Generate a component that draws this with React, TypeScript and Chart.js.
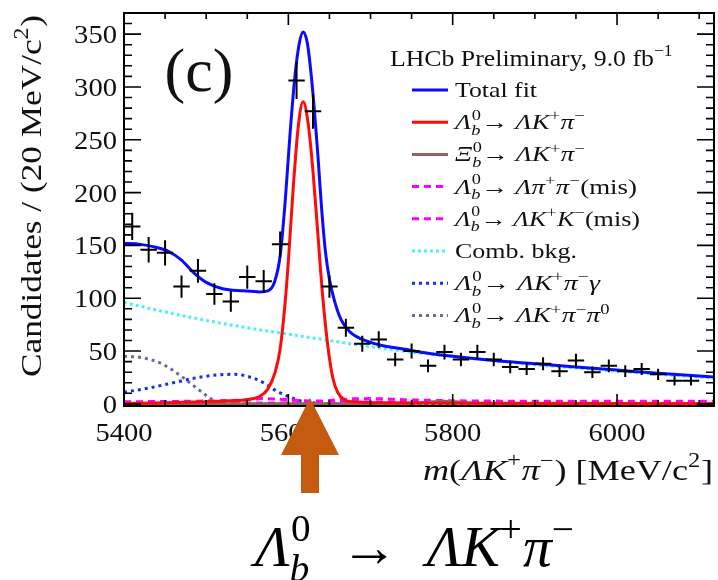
import React, { useEffect, useRef } from "react";
import { Chart, registerables } from "chart.js";
Chart.register(...registerables);

// ---------- data: measured candidates (20 MeV bins) ----------
const binCenters = [5410, 5430, 5450, 5470, 5490, 5510, 5530, 5550, 5570, 5590, 5610, 5630, 5650, 5670, 5690, 5710, 5730, 5750, 5770, 5790, 5810, 5830, 5850, 5870, 5890, 5910, 5930, 5950, 5970, 5990, 6010, 6030, 6050, 6070, 6090];
const counts = [168, 146, 143, 111, 126, 104, 97, 120, 116, 151, 306, 277, 111, 72, 57, 61, 42, 50, 36, 49, 42, 49, 42, 35, 33, 38, 31, 41, 30, 36, 31, 33, 28, 22, 22];
const binHalfWidth = 10;

// ---------- fit components ----------
const totalFitMass = [5400, 5420, 5440, 5455, 5470, 5485, 5500, 5520, 5545, 5565, 5575, 5583, 5590, 5596, 5602, 5608, 5613, 5618, 5623, 5628, 5632, 5636, 5640, 5645, 5650, 5656, 5664, 5675, 5690, 5710, 5740, 5770, 5800, 5850, 5900, 5950, 6000, 6050, 6118];
const totalFitValue = [152, 151, 148, 144, 136, 124, 115, 109, 107, 106, 107, 115, 140, 190, 255, 310, 340, 352, 342, 310, 275, 235, 190, 145, 118, 98, 80, 68, 61, 56, 52, 48, 45, 41, 38, 35, 32, 29, 25.5];

const signalMass = [5400, 5450, 5500, 5530, 5550, 5565, 5575, 5584, 5590, 5596, 5600, 5606, 5612, 5618, 5624, 5630, 5636, 5642, 5648, 5654, 5660, 5668, 5680, 5720, 5800, 6118];
const signalValue = [0.5, 1, 2, 3, 4, 7, 14, 30, 52, 95, 135, 205, 262, 286, 266, 220, 160, 100, 55, 25, 11, 4, 2, 1, 0.5, 0.2];

const xiMass = [5400, 5740, 5770, 5790, 5810, 5840, 6118];
const xiValue = [0, 0.3, 1.5, 2.5, 1.5, 0.3, 0];

const misPiPiMass = [5400, 5480, 5540, 5570, 5590, 5620, 5680, 5800, 6118];
const misPiPiValue = [2, 2.5, 3.5, 5, 4.5, 3, 2, 1.5, 1];

const misKKMass = [5400, 5600, 5640, 5670, 5700, 5740, 5800, 5950, 6118];
const misKKValue = [0.5, 1, 2.5, 4.5, 5, 4, 3, 2.5, 2.5];

const combMass = [5400, 5450, 5500, 5550, 5600, 5650, 5700, 5750, 5800, 5850, 5900, 5950, 6000, 6050, 6118];
const combValue = [96, 87, 79, 72, 66, 60, 54, 49, 45, 41, 37, 34, 31, 28, 24.5];

const gammaMass = [5400, 5430, 5460, 5490, 5515, 5535, 5555, 5570, 5586, 5600, 5614, 5630, 5650, 5700, 6118];
const gammaValue = [11, 15, 20, 25, 27.5, 28, 25, 20, 12, 7, 3, 1, 0.3, 0, 0];

const pi0Mass = [5400, 5420, 5440, 5455, 5470, 5485, 5500, 5510, 5525, 5550, 6118];
const pi0Value = [45, 44, 40, 34, 26, 17, 8, 3, 0.5, 0, 0];

// ---------- axes ----------
const xMin = 5400, xMax = 6118, yMin = -2, yMax = 370;
const xMajorTicks = [5400, 5600, 5800, 6000];
const xTickLabels = ["5400", "5600", "5800", "6000"];
const xMinorStep = 50;
const yMajorTicks = [0, 50, 100, 150, 200, 250, 300, 350];
const yTickLabels = ["0", "50", "100", "150", "200", "250", "300", "350"];
const yMinorStep = 10;

const SERIF = '"Liberation Serif", "Times New Roman", serif';

type Seg = { t: string; it?: boolean; k?: "sup" | "sub"; stack?: [string, string] };
const N = (t: string): Seg => ({ t });
const I = (t: string): Seg => ({ t, it: true });
const SUP = (t: string): Seg => ({ t, k: "sup" });
const STK = (sub: string, sup: string): Seg => ({ t: "", stack: [sub, sup] });

const fnt = (size: number, it: boolean | undefined, fam: string) => `${it ? "italic " : ""}${size.toFixed(1)}px ${fam}`;

function segWidth(ctx: CanvasRenderingContext2D, s: Seg, size: number, fam: string) {
  if (s.stack) {
    ctx.font = fnt(size * 0.68, true, fam);
    const a = ctx.measureText(s.stack[0]).width;
    ctx.font = fnt(size * 0.68, false, fam);
    const b = ctx.measureText(s.stack[1]).width;
    return Math.max(a, b) + size * 0.04;
  }
  const sz = s.k ? size * 0.68 : size;
  ctx.font = fnt(sz, s.it, fam);
  return ctx.measureText(s.t).width + (s.k ? size * 0.02 : 0);
}

function drawRich(
  ctx: CanvasRenderingContext2D,
  segs: Seg[],
  x: number,
  y: number,
  size: number,
  align: "left" | "right" | "center",
  opts: { target?: number; sx?: number; rot?: number; fam?: string; color?: string } = {}
) {
  const fam = opts.fam || SERIF;
  let W = 0;
  const ws = segs.map((s) => {
    const w = segWidth(ctx, s, size, fam);
    W += w;
    return w;
  });
  const sx = opts.target ? opts.target / W : opts.sx || 1;
  ctx.save();
  ctx.translate(x, y);
  if (opts.rot) ctx.rotate(opts.rot);
  ctx.scale(sx, 1);
  ctx.fillStyle = opts.color || "#111";
  ctx.textAlign = "left";
  ctx.textBaseline = "alphabetic";
  let cx = align === "left" ? 0 : align === "right" ? -W : -W / 2;
  segs.forEach((s, i) => {
    if (s.stack) {
      ctx.font = fnt(size * 0.68, true, fam);
      ctx.fillText(s.stack[0], cx, size * 0.26);
      ctx.font = fnt(size * 0.68, false, fam);
      ctx.fillText(s.stack[1], cx + size * 0.02, -size * 0.45);
    } else {
      const sz = s.k ? size * 0.68 : size;
      const dy = s.k === "sup" ? -size * 0.42 : s.k === "sub" ? size * 0.22 : 0;
      ctx.font = fnt(sz, s.it, fam);
      ctx.fillText(s.t, cx, dy);
    }
    cx += ws[i];
  });
  ctx.restore();
}

const LB0: Seg[] = [I("Λ"), STK("b", "0"), N("→ ")];

const components = [
  { name: "total", mass: totalFitMass, value: totalFitValue, color: "#0b0bff", dash: [] as number[], width: 3, label: [N("Total fit")], target: 82 },
  { name: "signal", mass: signalMass, value: signalValue, color: "#ff0a0a", dash: [] as number[], width: 3, label: [...LB0, I("ΛK"), SUP("+"), I("π"), SUP("−")], target: 130 },
  { name: "xi", mass: xiMass, value: xiValue, color: "#926262", dash: [] as number[], width: 3, label: [I("Ξ"), STK("b", "0"), N("→ "), I("ΛK"), SUP("+"), I("π"), SUP("−")], target: 130 },
  { name: "mispipi", mass: misPiPiMass, value: misPiPiValue, color: "#ff00ff", dash: [7, 5], width: 3, label: [...LB0, I("Λπ"), SUP("+"), I("π"), SUP("−"), N("(mis)")], target: 182 },
  { name: "miskk", mass: misKKMass, value: misKKValue, color: "#ff00ff", dash: [7, 5], width: 3, label: [...LB0, I("ΛK"), SUP("+"), I("K"), SUP("−"), N("(mis)")], target: 185 },
  { name: "comb", mass: combMass, value: combValue, color: "#4ff0f4", dash: [3, 3], width: 3, label: [N("Comb. bkg.")], target: 122 },
  { name: "gamma", mass: gammaMass, value: gammaValue, color: "#1530ee", dash: [3, 4], width: 3, label: [...LB0, I("ΛK"), SUP("+"), I("π"), SUP("−"), I("γ")], target: 145 },
  { name: "pi0", mass: pi0Mass, value: pi0Value, color: "#6b6b98", dash: [3, 4], width: 3, label: [...LB0, I("ΛK"), SUP("+"), I("π"), SUP("−"), I("π"), SUP("0")], target: 155 },
];

const overlayPlugin = {
  id: "overlay",
  afterDatasetsDraw(chart: any) {
    const ctx: CanvasRenderingContext2D = chart.ctx;
    const xs = chart.scales.x;
    const ys = chart.scales.y;
    const ca = chart.chartArea;

    // data points with error bars
    ctx.save();
    ctx.strokeStyle = "#000";
    ctx.lineWidth = 2;
    binCenters.forEach((m, i) => {
      const n = counts[i];
      const e = Math.sqrt(n);
      const px = xs.getPixelForValue(m);
      const py = ys.getPixelForValue(n);
      ctx.beginPath();
      ctx.moveTo(xs.getPixelForValue(m - binHalfWidth), py);
      ctx.lineTo(xs.getPixelForValue(m + binHalfWidth), py);
      ctx.moveTo(px, ys.getPixelForValue(n - e));
      ctx.lineTo(px, ys.getPixelForValue(n + e));
      ctx.stroke();
    });
    ctx.restore();

    // frame and ticks
    ctx.save();
    ctx.strokeStyle = "#000";
    ctx.lineWidth = 2;
    ctx.strokeRect(ca.left, ca.top, ca.right - ca.left, ca.bottom - ca.top);
    ctx.lineWidth = 1.6;
    ctx.beginPath();
    for (let v = xMin; v <= xMax; v += xMinorStep) {
      const major = xMajorTicks.includes(v);
      const len = major ? 12 : 6;
      const px = xs.getPixelForValue(v);
      ctx.moveTo(px, ca.bottom);
      ctx.lineTo(px, ca.bottom - len);
      ctx.moveTo(px, ca.top);
      ctx.lineTo(px, ca.top + len);
    }
    for (let v = 0; v <= yMax; v += yMinorStep) {
      const major = yMajorTicks.includes(v);
      const len = major ? 17 : 8;
      const py = ys.getPixelForValue(v);
      ctx.moveTo(ca.left, py);
      ctx.lineTo(ca.left + len, py);
      ctx.moveTo(ca.right, py);
      ctx.lineTo(ca.right - len, py);
    }
    ctx.stroke();
    ctx.restore();

    // tick labels
    xMajorTicks.forEach((v, i) => {
      drawRich(ctx, [N(xTickLabels[i])], xs.getPixelForValue(v), 441, 26, "center", { sx: 1.1 });
    });
    yMajorTicks.forEach((v, i) => {
      drawRich(ctx, [N(yTickLabels[i])], 117, ys.getPixelForValue(v) + 9, 26, "right", { sx: 1.1 });
    });

    // axis titles
    drawRich(ctx, [N("Candidates / (20 MeV/c"), SUP("2"), N(")")], 41, 377, 30, "left", { rot: -Math.PI / 2, target: 362 });
    drawRich(ctx, [I("m"), N("("), I("ΛK"), SUP("+"), I("π"), SUP("−"), N(") [MeV/c"), SUP("2"), N("]")], 713, 480, 30, "right", { target: 290 });

    // panel label
    drawRich(ctx, [N("(c)")], 199, 91, 62, "center");

    // legend
    drawRich(ctx, [N("LHCb Preliminary, 9.0 fb"), SUP("−1")], 390, 66, 24, "left", { target: 283 });
    components.forEach((c, i) => {
      const ry = 90 + i * 32.2;
      ctx.save();
      ctx.strokeStyle = c.color;
      ctx.lineWidth = c.width;
      ctx.setLineDash(c.dash);
      ctx.beginPath();
      ctx.moveTo(412, ry);
      ctx.lineTo(448, ry);
      ctx.stroke();
      ctx.restore();
      drawRich(ctx, c.label, 455, ry + 7, 21, "left", { target: c.target });
    });

    // arrow
    ctx.save();
    ctx.fillStyle = "#c55a11";
    ctx.beginPath();
    ctx.moveTo(310, 398);
    ctx.lineTo(339, 455);
    ctx.lineTo(319, 455);
    ctx.lineTo(319, 493);
    ctx.lineTo(301, 493);
    ctx.lineTo(301, 455);
    ctx.lineTo(281, 455);
    ctx.closePath();
    ctx.fill();
    ctx.restore();

    // decay formula
    drawRich(ctx, [I("Λ"), STK("b", "0"), N("  →  "), I("ΛK"), SUP("+"), I("π"), SUP("−")], 255, 566, 56, "left", { color: "#000", target: 320 });
  },
};

export default function App() {
  const ref = useRef<HTMLCanvasElement>(null);
  useEffect(() => {
    let chart: Chart | null = null;
    let cancelled = false;
    const build = () => {
      if (cancelled || !ref.current) return;
      const datasets = components.map((c) => ({
        label: c.name,
        data: c.mass.map((m, i) => ({ x: m, y: c.value[i] })),
        showLine: true,
        borderColor: c.color,
        backgroundColor: c.color,
        borderWidth: c.width,
        borderDash: c.dash,
        pointRadius: 0,
        pointHoverRadius: 0,
        cubicInterpolationMode: "monotone" as const,
        fill: false,
      }));
      chart = new Chart(ref.current, {
        type: "scatter",
        data: { datasets },
        options: {
          animation: false,
          responsive: false,
          devicePixelRatio: 1,
          events: [],
          layout: { padding: { left: 124, top: 13, right: 4, bottom: 174 } },
          plugins: { legend: { display: false }, tooltip: { enabled: false } },
          scales: {
            x: { type: "linear", min: xMin, max: xMax, display: false },
            y: { type: "linear", min: yMin, max: yMax, display: false },
          },
        },
        plugins: [overlayPlugin],
      });
    };
    const fontsReady = (document as any).fonts
      ? Promise.all([
          (document as any).fonts.load('20px "Liberation Serif"'),
          (document as any).fonts.load('italic 20px "Liberation Serif"'),
        ])
      : Promise.resolve();
    fontsReady.then(build, build);
    return () => {
      cancelled = true;
      if (chart) chart.destroy();
    };
  }, []);
  return (
    <div style={{ position: "fixed", left: 0, top: 0, width: 718, height: 580, background: "#fff" }}>
      <canvas ref={ref} width={718} height={580} style={{ display: "block", width: 718, height: 580 }} />
    </div>
  );
}
